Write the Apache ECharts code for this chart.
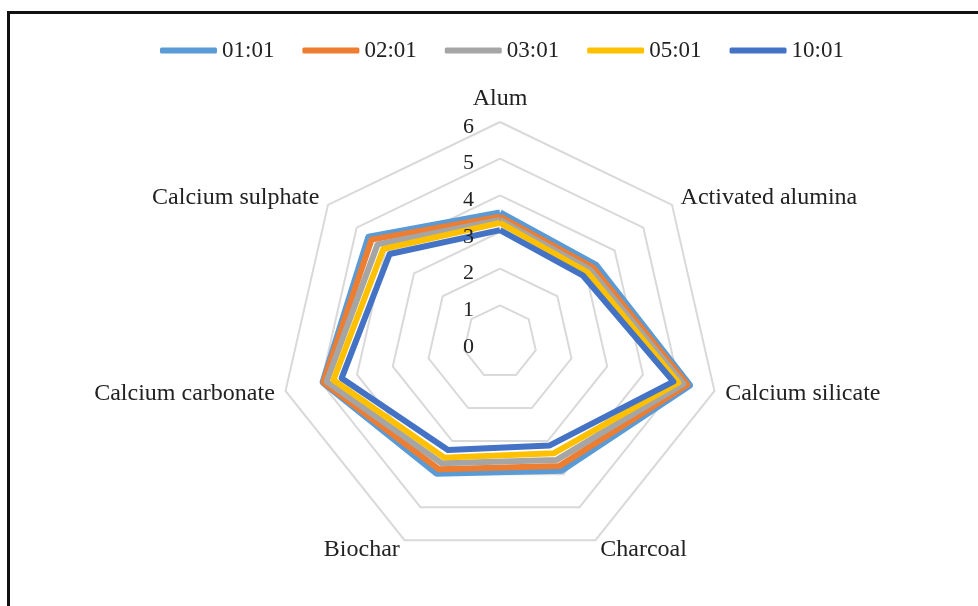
<!DOCTYPE html>
<html>
<head>
<meta charset="utf-8">
<script src="https://cdn.jsdelivr.net/npm/echarts@6/dist/echarts.min.js"></script>
<style>
  html, body { margin: 0; padding: 0; background: #fff; }
  #chart { position: absolute; left: 0; top: 0; width: 978px; height: 606px; }
  #frame { position: absolute; left: 7px; top: 11px; width: 1000px; height: 620px;
           border-left: 3px solid #111; border-top: 3px solid #111; pointer-events: none; }
</style>
</head>
<body>
<div id="chart"></div>
<div id="frame"></div>
<script>
// categories listed clockwise from the top, as in the reference
const categories = ['Alum', 'Activated alumina', 'Calcium silicate', 'Charcoal', 'Biochar', 'Calcium carbonate', 'Calcium sulphate'];
const seriesNames = ['01:01', '02:01', '03:01', '05:01', '10:01'];
const s0101 = [3.52, 3.35, 5.30, 3.88, 3.97, 4.95, 4.58];
const s0201 = [3.42, 3.25, 5.24, 3.75, 3.85, 4.94, 4.48];
const s0301 = [3.33, 3.15, 5.13, 3.57, 3.67, 4.85, 4.27];
const s0501 = [3.25, 3.05, 4.99, 3.37, 3.50, 4.66, 4.07];
const s1001 = [3.05, 2.90, 4.85, 3.13, 3.27, 4.43, 3.85];
const axisMax = 6;

const values = [s0101, s0201, s0301, s0501, s1001];
const colors = ['#5B9BD5', '#ED7D31', '#A5A5A5', '#FFC000', '#4472C4'];
const widths = [7, 6, 6, 6, 6];
const font = '"Liberation Serif", "Times New Roman", serif';

// ECharts radar runs counter-clockwise; reorder so the reference's clockwise order is kept
const order = [0].concat(categories.map((_, i) => i).slice(1).reverse());
const reorder = arr => order.map(i => arr[i]);

const baseRadar = {
  radius: 220,
  startAngle: 90,
  shape: 'polygon',
  splitNumber: 6,
  axisLine: { show: false },
  axisTick: { show: false },
  axisLabel: { show: false },
  splitArea: { show: false }
};

const chart = echarts.init(document.getElementById('chart'));
chart.setOption({
  animation: false,
  color: colors,
  legend: {
    top: 34,
    left: 155,
    itemWidth: 57,
    itemHeight: 6,
    itemGap: 28,
    icon: 'roundRect',
    textStyle: { fontFamily: font, fontSize: 23, color: '#222' },
    data: seriesNames
  },
  radar: [
    Object.assign({}, baseRadar, {
      center: [500, 342],
      axisNameGap: 11,
      axisName: { color: '#222', fontFamily: font, fontSize: 24 },
      splitLine: { lineStyle: { color: '#D9D9D9', width: 2 } },
      indicator: reorder(categories).map(c => ({ name: c, min: 0, max: axisMax }))
    }),
    // value labels only, drawn above the series
    Object.assign({}, baseRadar, {
      center: [500, 347],
      z: 10,
      axisName: { show: false },
      splitLine: { show: false },
      indicator: reorder(categories).map((c, i) => {
        const ind = { name: c, min: 0, max: axisMax };
        if (i === 0) {
          ind.axisLabel = { show: true, showMinLabel: true, showMaxLabel: true, margin: 26,
            color: '#222', fontFamily: font, fontSize: 22 };
        }
        return ind;
      })
    })
  ],
  series: [{
    type: 'radar',
    radarIndex: 0,
    symbol: 'none',
    data: seriesNames.map((n, i) => ({
      name: n,
      value: reorder(values[i]),
      lineStyle: { color: colors[i], width: widths[i] },
      itemStyle: { color: colors[i] }
    }))
  }]
});
</script>
</body>
</html>
